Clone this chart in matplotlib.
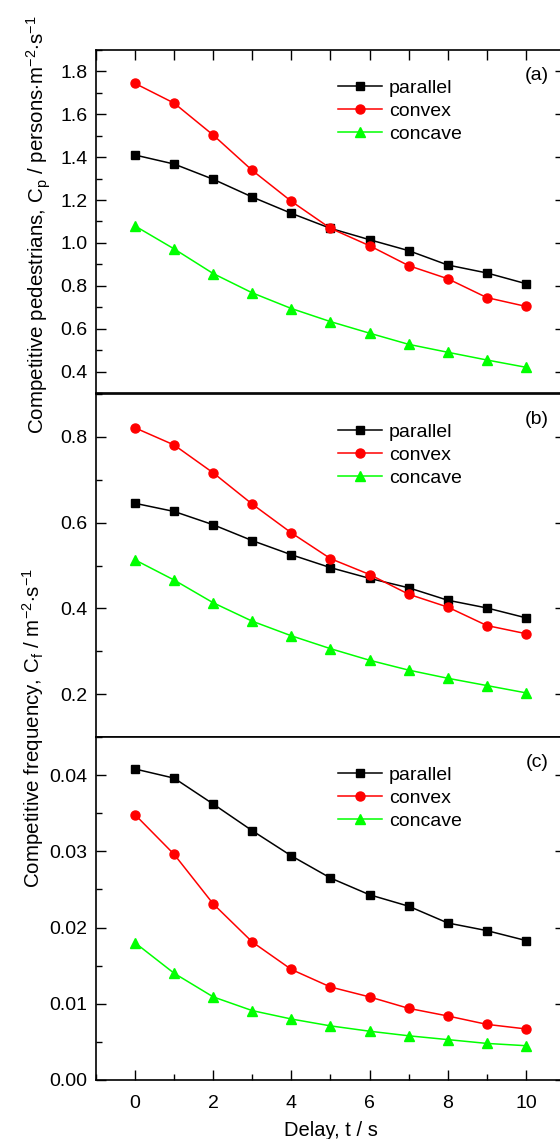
import numpy as np
import matplotlib.pyplot as plt
from matplotlib.ticker import MultipleLocator, FormatStrFormatter

plt.rcParams['font.family'] = ['Liberation Sans', 'DejaVu Sans']
plt.rcParams['mathtext.fontset'] = 'custom'
plt.rcParams['mathtext.rm'] = 'Liberation Sans'
plt.rcParams['mathtext.it'] = 'Liberation Sans'

# data
delay = [0, 1, 2, 3, 4, 5, 6, 7, 8, 9, 10]
series = ['parallel', 'convex', 'concave']

cp_parallel = [1.410, 1.368, 1.297, 1.214, 1.138, 1.068, 1.015, 0.964, 0.897, 0.860, 0.810]
cp_convex = [1.744, 1.652, 1.503, 1.338, 1.194, 1.068, 0.987, 0.894, 0.833, 0.745, 0.704]
cp_concave = [1.079, 0.972, 0.857, 0.767, 0.694, 0.633, 0.579, 0.527, 0.490, 0.454, 0.420]

cf_parallel = [0.645, 0.626, 0.595, 0.558, 0.525, 0.495, 0.470, 0.448, 0.419, 0.401, 0.378]
cf_convex = [0.821, 0.781, 0.716, 0.643, 0.576, 0.516, 0.479, 0.433, 0.403, 0.360, 0.341]
cf_concave = [0.513, 0.466, 0.413, 0.370, 0.336, 0.306, 0.279, 0.256, 0.237, 0.220, 0.203]

fc_parallel = [0.0408, 0.0396, 0.0362, 0.0327, 0.0294, 0.0265, 0.0243, 0.0228, 0.0206, 0.0196, 0.0183]
fc_convex = [0.0348, 0.0296, 0.0231, 0.0181, 0.0145, 0.0122, 0.0109, 0.0094, 0.0084, 0.0073, 0.0067]
fc_concave = [0.0180, 0.0140, 0.0109, 0.0091, 0.0080, 0.0071, 0.0064, 0.0058, 0.0053, 0.0048, 0.0045]

panels = [
    ([cp_parallel, cp_convex, cp_concave], (0.3, 1.9), 0.2, 0.1, '%.1f', '(a)'),
    ([cf_parallel, cf_convex, cf_concave], (0.1, 0.9), 0.2, 0.1, '%.1f', '(b)'),
    ([fc_parallel, fc_convex, fc_concave], (0.0, 0.045), 0.01, 0.005, '%.2f', '(c)'),
]

styles = [('black', 's', 5.5), ('#ff0000', 'o', 6.5), ('#00ff00', '^', 7)]

fig = plt.figure(figsize=(5.6, 11.39), dpi=100)

W, H = 560, 1139
left = 96 / W
width = (565 - 96) / W
tops = [50, 394, 737]
ph = 343

for i, (vals, ylim, major, minor, fmt, tag) in enumerate(panels):
    ax = fig.add_axes([left, 1 - (tops[i] + ph) / H, width, ph / H])
    for (color, marker, ms), name, v in zip(styles, series, vals):
        ax.plot(delay, v, color=color, marker=marker, markersize=ms, lw=1.1,
                label=name, clip_on=False)
    ax.set_xlim(-1, 11)
    ax.set_ylim(*ylim)
    ax.xaxis.set_major_locator(MultipleLocator(2))
    ax.xaxis.set_minor_locator(MultipleLocator(1))
    ax.yaxis.set_major_locator(MultipleLocator(major))
    ax.yaxis.set_minor_locator(MultipleLocator(minor))
    ax.yaxis.set_major_formatter(FormatStrFormatter(fmt))
    ax.tick_params(axis='both', which='both', direction='in', labelsize=14)
    ax.tick_params(axis='y', which='major', length=7, width=1, pad=6, right=True)
    ax.tick_params(axis='y', which='minor', length=4, width=1, right=False)
    ax.tick_params(axis='x', which='major', length=7, width=1, pad=11,
                   bottom=(i == 2), top=(i == 0), labelbottom=(i == 2))
    ax.tick_params(axis='x', which='minor', length=4 if i == 2 else 7, width=1,
                   bottom=(i == 2), top=(i == 0))
    for s in ax.spines.values():
        s.set_linewidth(1.2)
    ax.legend(loc='upper left', bbox_to_anchor=(0.515, 0.915), frameon=False,
              fontsize=14, handlelength=2.3, handletextpad=0.35,
              labelspacing=0.28, borderpad=0, borderaxespad=0)
    ax.text(0.965, 0.927, tag, transform=ax.transAxes, ha='right', va='center',
            fontsize=14)
    if i == 2:
        ax.set_xlabel('Delay, t / s', fontsize=14.5, labelpad=6)

fig.text(39 / W, 1 - 225 / H,
         r'Competitive pedestrians, C$_\mathregular{p}$ / persons$\cdot$m$^\mathregular{-2}$$\cdot$s$^\mathregular{-1}$',
         rotation=90, ha='center', va='center', fontsize=14.8)
fig.text(33 / W, 1 - 728 / H,
         r'Competitive frequency, C$_\mathregular{f}$ / m$^\mathregular{-2}$$\cdot$s$^\mathregular{-1}$',
         rotation=90, ha='center', va='center', fontsize=14.8)

fig.savefig('out.png', dpi=100)
